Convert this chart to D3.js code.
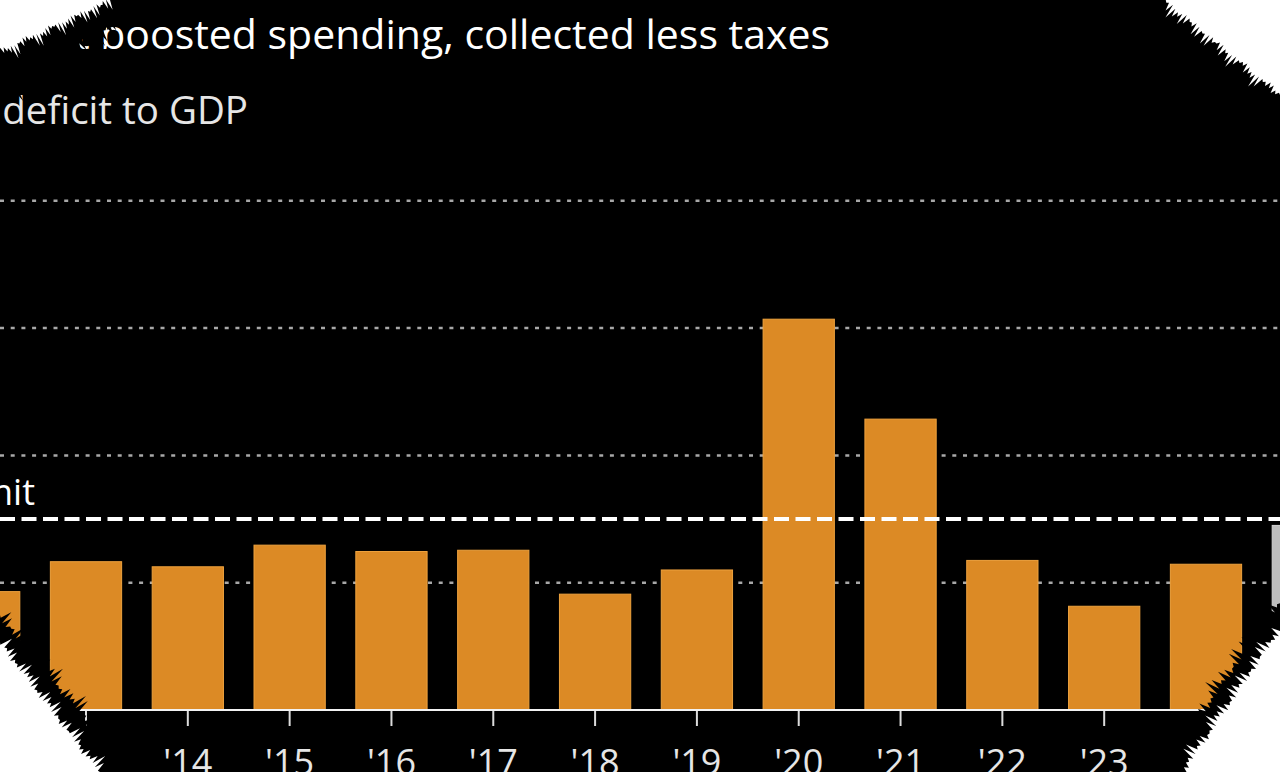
<!DOCTYPE html>
<html>
<head>
<meta charset="utf-8">
<script src="https://cdn.jsdelivr.net/npm/d3@7"></script>
<style>
  html, body { margin: 0; padding: 0; background: #000; }
  svg { display: block; }
  text { font-family: "Open Sans", sans-serif; fill: #fff; }
</style>
</head>
<body>
<div id="chart"></div>
<script>
// Budget deficit to GDP, %
const years = ["12", "13", "14", "15", "16", "17", "18", "19", "20", "21", "22", "23", "24", "25"];
const deficit = [1.86, 2.33, 2.25, 2.59, 2.49, 2.51, 1.82, 2.20, 6.14, 4.57, 2.35, 1.63, 2.29, 2.9];
const projected = ["25"];
const gridValues = [2, 4, 6, 8];
const limitValue = 3;

const subtitle = "Government boosted spending, collected less taxes";
const unitLabel = "Budget deficit to GDP";
const limitLabel = "3% limit";

const width = 1280, height = 772;

const svg = d3.select("#chart")
  .append("svg")
  .attr("width", width)
  .attr("height", height);

svg.append("rect")
  .attr("width", width)
  .attr("height", height)
  .attr("fill", "#000");

const data = years.map((y, i) => ({ year: y, value: deficit[i] }));

// the picture is a zoomed crop, so the band range runs past both edges
var x = d3.scaleBand()
  .domain(years)
  .range([-82, 1374])
  .padding(0.3);

var y = d3.scaleLinear()
  .domain([0, 1])
  .range([710, 646.35]);

// text
svg.append("text")
  .attr("x", 830).attr("y", 49)
  .attr("text-anchor", "end")
  .style("font-size", "41px")
  .text(subtitle);

svg.append("text")
  .attr("x", 248).attr("y", 124)
  .attr("text-anchor", "end")
  .style("font-size", "38.5px")
  .style("fill", "#e6e6e6")
  .text(unitLabel);

// gridlines
svg.selectAll(".grid")
  .data(gridValues)
  .enter()
  .append("line")
    .attr("class", "grid")
    .attr("x1", 0).attr("x2", width)
    .attr("y1", d => y(d)).attr("y2", d => y(d))
    .attr("stroke", "#a8a8a8")
    .attr("stroke-width", 2.5)
    .attr("stroke-dasharray", "4 6.7");

// bars
svg.selectAll(".bar")
  .data(data)
  .enter()
  .append("rect")
    .attr("class", "bar")
    .attr("x", d => x(d.year))
    .attr("width", x.bandwidth())
    .attr("y", d => y(d.value))
    .attr("height", d => y(0) - y(d.value))
    .attr("fill", d => projected.includes(d.year) ? "#bdbdbd" : "#dc8a25")
    .attr("stroke", d => projected.includes(d.year) ? "#d4d4d4" : "#eea23e")
    .attr("stroke-width", 1);

// 3% limit line
svg.append("line")
  .attr("x1", 0).attr("x2", width)
  .attr("y1", y(limitValue)).attr("y2", y(limitValue))
  .attr("stroke", "#fff")
  .attr("stroke-width", 4)
  .attr("stroke-dasharray", "15 6.5");

svg.append("text")
  .attr("x", 35).attr("y", 505)
  .attr("text-anchor", "end")
  .style("font-size", "36px")
  .text(limitLabel);

// x axis
const xAxis = svg.append("g")
  .attr("transform", "translate(0," + y(0) + ")");

xAxis.append("line")
  .attr("x1", 0).attr("x2", width)
  .attr("stroke", "#f2f2f2")
  .attr("stroke-width", 2);

xAxis.selectAll(".tick")
  .data(years)
  .enter()
  .append("line")
    .attr("class", "tick")
    .attr("x1", d => x(d) + x.bandwidth() / 2)
    .attr("x2", d => x(d) + x.bandwidth() / 2)
    .attr("y1", 1).attr("y2", 16)
    .attr("stroke", "#dcdcdc")
    .attr("stroke-width", 2);

xAxis.selectAll(".lbl")
  .data(years)
  .enter()
  .append("text")
    .attr("class", "lbl")
    .attr("x", d => x(d) + x.bandwidth() / 2)
    .attr("y", 65)
    .attr("text-anchor", "middle")
    .style("font-size", "36px")
    .style("fill", "#e6e6e6")
    .text(d => "'" + d);

// torn paper corners
function tear(c, a, b, amp, n, seed) {
  const dx = b[0] - a[0], dy = b[1] - a[1];
  const len = Math.hypot(dx, dy);
  // normal pointing away from the corner
  let nx = -dy / len, ny = dx / len;
  const mx = (a[0] + b[0]) / 2, my = (a[1] + b[1]) / 2;
  if ((mx - c[0]) * nx + (my - c[1]) * ny < 0) { nx = -nx; ny = -ny; }
  const pts = [c, a];
  for (let i = 1; i < n; i++) {
    const t = i / n;
    const k = Math.abs(Math.sin(i * 2.71 + seed) * Math.cos(i * 1.37 + seed * 2));
    const o = (i % 2 === 0) ? amp * k : -amp * 0.3 * k;
    pts.push([a[0] + dx * t + nx * o, a[1] + dy * t + ny * o]);
  }
  pts.push(b);
  return pts;
}

// white = torn-off paper, black = ragged scratchy edge around it
const corners = [
  { c: [0, 0], a: [112, 0], b: [0, 52], a2: [150, 0], b2: [0, 98] },
  { c: [width, 0], a: [1163, 0], b: [width, 95], a2: [1140, 0], b2: [width, 140] },
  { c: [0, height], a: [0, 642], b: [100, height], a2: [0, 615], b2: [130, height] },
  { c: [width, height], a: [width, 628], b: [1182, height], a2: [width, 600], b2: [1160, height] }
];

const line = d3.line().curve(d3.curveLinearClosed);

corners.forEach((k, i) => {
  svg.append("path")
    .attr("d", line(tear(k.c, k.a2, k.b2, 16, 80, i + 1)))
    .attr("fill", "#000");
  svg.append("path")
    .attr("d", line(tear(k.c, k.a, k.b, 14, 70, i + 3)))
    .attr("fill", "#fff");
});
</script>
</body>
</html>
